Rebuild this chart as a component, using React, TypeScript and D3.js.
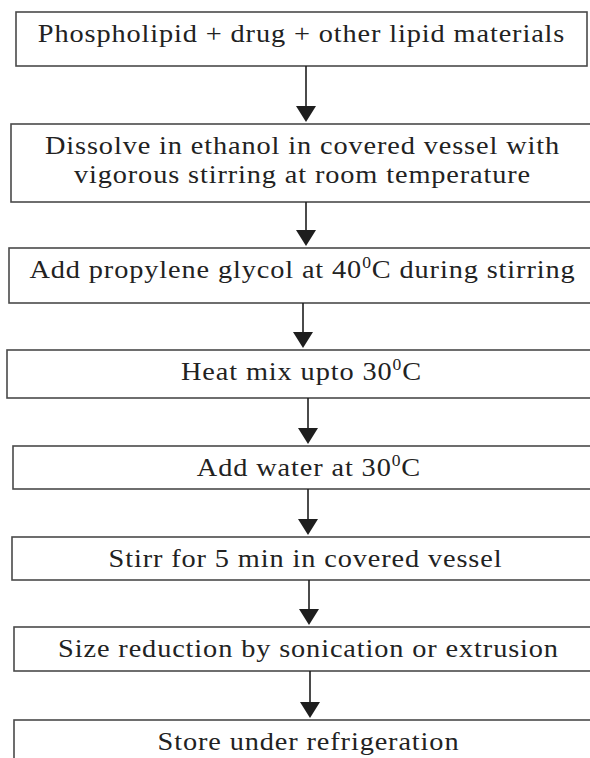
import React, { useRef, useEffect } from 'react'
import * as d3 from 'd3'

// step texts, "^0" marks a superscript 0 (degree sign in the original)
const steps: string[][] = [
  ['Phospholipid + drug + other lipid materials'],
  ['Dissolve in ethanol in covered vessel with', 'vigorous stirring at room temperature'],
  ['Add propylene glycol at 40^0C during stirring'],
  ['Heat mix upto 30^0C'],
  ['Add water at 30^0C'],
  ['Stirr for 5 min in covered vessel'],
  ['Size reduction by sonication or extrusion'],
  ['Store under refrigeration'],
]

const boxLayout: [number, number, number, number][] = [
  [16, 12, 587, 66],
  [11, 124, 594, 202],
  [9, 248, 596, 303],
  [7, 350, 596, 398],
  [13, 446, 605, 489],
  [12, 537, 599, 580],
  [14, 627, 603, 671],
  [14, 720, 603, 800],
]
const arrowX = [306, 306, 303, 308, 308, 309, 310]

const W = 590
const H = 758

const App = () => {
  const element = useRef<SVGSVGElement>(null)

  useEffect(() => {
    const svg = d3.select(element.current)
    svg.selectAll('*').remove()

    const fontSize = 26
    const lineGap = 28.5
    const stretch = 1.09

    const boxes = svg.selectAll('g.step')
      .data(steps)
      .enter()
      .append('g')
      .attr('class', 'step')

    boxes.append('rect')
      .attr('x', (d, i) => boxLayout[i][0])
      .attr('y', (d, i) => boxLayout[i][1])
      .attr('width', (d, i) => boxLayout[i][2] - boxLayout[i][0])
      .attr('height', (d, i) => boxLayout[i][3] - boxLayout[i][1])
      .attr('fill', '#fff')
      .attr('stroke', '#4a4a4a')
      .attr('stroke-width', 1.6)

    boxes.each(function (lines, i) {
      const [x0, y0, x1] = boxLayout[i]
      const cx = (x0 + x1) / 2
      lines.forEach((line, j) => {
        const t = d3.select(this)
          .append('text')
          .attr('transform', `translate(${cx},${y0 + 30 + j * lineGap}) scale(${stretch},1)`)
          .attr('text-anchor', 'middle')
          .attr('font-family', '"Liberation Serif", "Times New Roman", serif')
          .attr('font-size', fontSize)
          .attr('letter-spacing', 0.8)
          .attr('fill', '#222')
        const parts = line.split(/\^(\w)/)
        parts.forEach((p, k) => {
          if (!p) return
          if (k % 2 === 1) {
            t.append('tspan').attr('font-size', fontSize * 0.62).attr('dy', -10).text(p)
          } else {
            t.append('tspan').attr('dy', k > 0 ? 10 : 0).text(p)
          }
        })
      })
    })

    // arrows between consecutive boxes
    const links = d3.pairs(boxLayout)
    const arrows = svg.selectAll('g.arrow')
      .data(links)
      .enter()
      .append('g')
      .attr('class', 'arrow')

    const headW = 10
    const headH = 16
    arrows.append('line')
      .attr('x1', (d, i) => arrowX[i])
      .attr('x2', (d, i) => arrowX[i])
      .attr('y1', d => d[0][3])
      .attr('y2', d => d[1][1] - headH)
      .attr('stroke', '#1e1e1e')
      .attr('stroke-width', 1.6)

    arrows.append('path')
      .attr('d', (d, i) => {
        const x = arrowX[i]
        const tip = d[1][1] - 2
        const p = d3.path()
        p.moveTo(x - headW, tip - headH)
        p.lineTo(x + headW, tip - headH)
        p.lineTo(x, tip)
        p.closePath()
        return p.toString()
      })
      .attr('fill', '#1e1e1e')
  }, [])

  return (
    <svg
      ref={element}
      width={W}
      height={H}
      style={{ position: 'absolute', left: 0, top: 0, background: '#fff' }}
    />
  )
}

export default App
